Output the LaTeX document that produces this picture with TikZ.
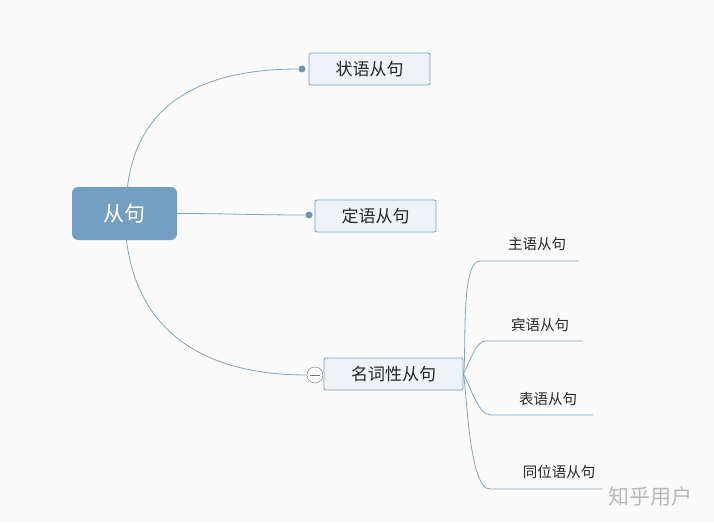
\documentclass[tikz,border=0pt]{standalone}
\usepackage{fontspec}
\setmainfont{Noto Sans CJK SC}
\usepackage{xcolor}
\definecolor{bgcol}{RGB}{250,250,250}
\definecolor{linecol}{RGB}{128,164,190}
\definecolor{boxline}{RGB}{122,160,192}
\definecolor{boxfill}{RGB}{238,243,247}
\definecolor{rootfill}{RGB}{116,159,192}
\definecolor{dotcol}{RGB}{110,150,180}

\begin{document}
\begin{tikzpicture}[x=1pt,y=1pt]
\tikzset{branch/.style={draw=linecol,line width=0.8pt}}
\tikzset{topic/.style={draw=boxline,line width=0.8pt,fill=boxfill,rounded corners=2pt,minimum width=121pt,minimum height=32pt,inner sep=0pt,text=black!85,font=\fontsize{17}{17}\selectfont}}
\tikzset{rootnode/.style={fill=rootfill,rounded corners=6pt,minimum width=105pt,minimum height=53pt,inner sep=0pt,text=white,font=\fontsize{21}{21}\selectfont}}
\tikzset{dotnode/.style={circle,fill=dotcol,inner sep=0pt,minimum size=7pt}}
\tikzset{leaf/.style={inner sep=0pt,text=black!85,font=\fontsize{14.5}{14.5}\selectfont}}

\fill[bgcol] (0,0) rectangle (714,523);
\useasboundingbox (0,0) rectangle (714,523);

% main topics
\node[rootnode] (root) at (124.5,309.5) {从句};
\node[topic] (zhuangyu) at (369.5,454) {状语从句};
\node[topic] (dingyu) at (375.5,307) {定语从句};
\node[topic,minimum width=139pt] (mingci) at (393.5,149) {名词性从句};

\node[dotnode] (dot1) at (302,454) {};
\node[dotnode] (dot2) at (309,308) {};
\node[circle,draw=black!55,fill=white,inner sep=0pt,minimum size=16pt] (fold) at (315,148) {};
\draw[black!55] ([xshift=3pt]fold.west) -- ([xshift=-3pt]fold.east);

\draw[branch] ([xshift=3pt]root.north) to[out=83,in=180,looseness=1.1] (dot1);
\draw[branch] (root.east) to[out=0,in=180] (dot2);
\draw[branch] ([xshift=2pt]root.south) to[out=-83,in=180,looseness=1.1] (fold.west);

% subtopics
\coordinate (zhuyu) at (480,262);
\coordinate (binyu) at (485,182);
\coordinate (biaoyu) at (490,108);
\coordinate (tongwei) at (490,34);
\coordinate (zhuyuE) at (579,262);
\coordinate (binyuE) at (583,182);
\coordinate (biaoyuE) at (593,108);
\coordinate (tongweiE) at (603,34);

\node[leaf] (zhuyuT) at (537,279) {主语从句};
\node[leaf] (binyuT) at (540,198) {宾语从句};
\node[leaf] (biaoyuT) at (548,124) {表语从句};
\node[leaf] (tongweiT) at (559,51) {同位语从句};

\draw[branch] (mingci.east) to[out=80,in=180,looseness=0.45] (zhuyu) -- (zhuyuE);
\draw[branch] (mingci.east) to[out=60,in=180,looseness=0.6] (binyu) -- (binyuE);
\draw[branch] (mingci.east) to[out=-60,in=180,looseness=0.6] (biaoyu) -- (biaoyuE);
\draw[branch] (mingci.east) to[out=-80,in=180,looseness=0.45] (tongwei) -- (tongweiE);

\node[text=black!28,font=\fontsize{21}{21}\selectfont] (mark) at (650,26) {知乎用户};

\end{tikzpicture}
\end{document}
